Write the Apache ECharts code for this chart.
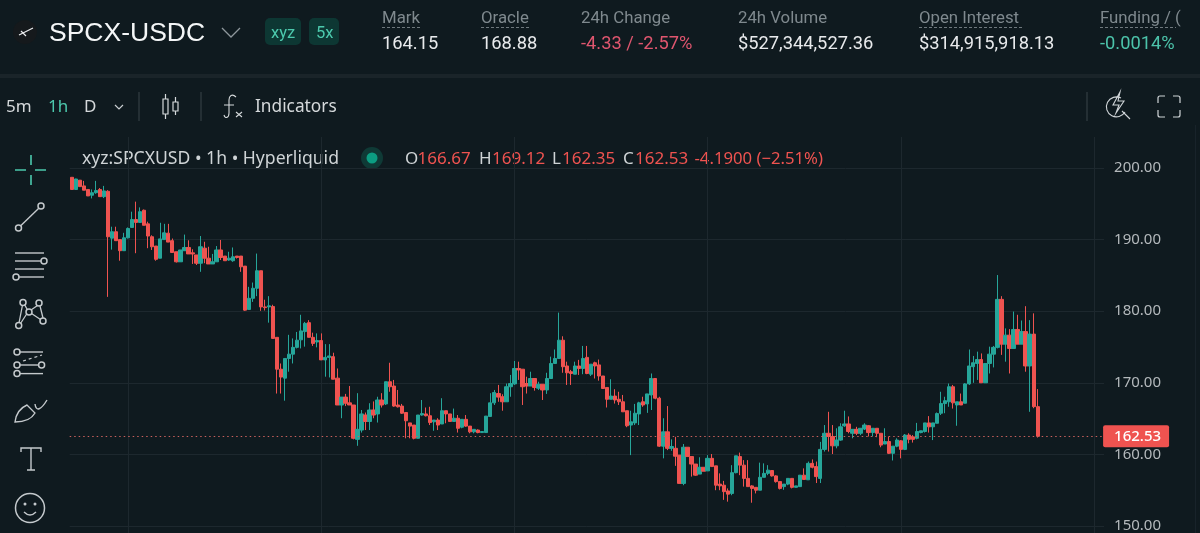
<!DOCTYPE html>
<html>
<head>
<meta charset="utf-8">
<style>html,body{margin:0;padding:0;background:#0f1a1f;overflow:hidden}#c{width:1200px;height:533px}</style>
<script src="https://cdn.jsdelivr.net/npm/echarts@6/dist/echarts.min.js"></script>
</head>
<body>
<div id="c"></div>
<script>
const opens = [
198.7,197.0,198.3,197.5,197.0,196.2,196.55,197.0,196.0,196.75,
190.2,191.1,190.0,188.45,190.25,191.7,192.8,192.4,194.1,192.2,
190.4,189.1,187.4,190.0,190.9,189.85,188.3,186.9,188.45,188.9,
188.15,187.85,186.7,188.8,187.4,186.6,186.9,188.55,187.7,187.15,
187.05,187.7,187.7,186.3,180.25,181.8,183.2,185.65,180.6,180.6,
180.65,176.35,171.9,170.65,173.4,174.0,174.95,176.0,177.15,178.4,
176.35,175.7,175.9,173.2,173.55,173.65,170.65,166.9,168.0,167.2,
166.9,162.1,163.4,165.5,164.6,166.2,165.65,167.6,167.05,170.15,
169.55,166.9,166.75,165.85,164.4,164.1,162.25,165.5,165.65,165.4,
164.55,164.8,164.25,166.1,165.65,164.6,165.05,163.8,164.9,163.95,
163.15,163.4,163.05,163.05,165.3,167.2,168.5,168.05,167.35,169.45,
169.85,172.0,171.9,169.9,169.55,170.6,169.25,169.8,169.0,170.6,
172.7,173.4,175.95,172.35,171.55,171.2,172.35,172.0,173.55,171.2,
172.8,172.5,170.95,169.35,167.7,168.15,167.7,167.35,166.1,164.1,
164.4,165.65,167.35,167.05,168.3,170.6,167.85,161.15,163.15,160.85,
160.85,159.9,155.95,161.0,159.7,158.65,157.25,158.2,157.7,159.45,
158.4,155.85,155.7,154.9,154.55,157.45,159.7,158.5,156.65,155.6,
155.4,155.0,156.8,157.35,157.75,157.0,156.2,155.5,155.85,156.65,
155.4,155.5,157.1,156.45,158.75,158.3,156.65,160.7,162.95,162.5,
161.2,162.0,164.0,164.25,162.95,163.5,162.95,163.55,164.0,163.05,
163.65,162.95,161.45,161.8,160.15,161.15,161.9,160.7,162.7,162.45,
162.25,163.05,163.2,164.4,163.85,164.35,165.75,167.1,167.35,169.45,
166.9,167.35,167.15,169.85,172.25,172.7,173.25,170.0,172.7,174.0,
174.95,181.65,175.4,176.65,174.8,177.45,175.4,177.15,172.35,176.8,
166.67];
const closes = [
197.0,198.46,197.4,196.9,196.1,196.55,196.85,196.0,196.8,190.4,
191.1,189.85,188.45,190.25,191.55,192.8,192.4,193.9,192.0,190.5,
189.0,187.25,190.1,190.95,189.65,188.2,186.9,188.55,188.9,188.0,
188.0,186.7,189.0,187.4,186.6,186.9,188.55,187.5,187.05,187.4,
187.6,187.5,186.2,180.15,181.8,183.2,185.65,180.6,180.5,180.75,
176.2,171.9,170.8,173.4,174.0,174.95,175.95,177.25,178.3,176.35,
175.5,175.9,173.2,173.55,173.75,170.5,166.9,168.0,167.15,166.9,
162.25,163.5,165.65,164.6,166.2,165.5,167.6,166.9,170.15,169.45,
166.75,166.65,165.75,164.7,163.95,162.25,165.5,165.7,165.4,164.45,
164.8,164.1,166.1,165.65,164.6,165.05,163.65,164.9,163.95,163.15,
163.5,163.05,163.2,165.35,167.2,168.65,168.0,167.35,169.45,169.9,
172.0,171.8,169.45,169.55,170.6,169.35,169.8,169.0,170.6,172.7,
173.4,175.95,172.25,171.4,171.3,172.35,172.0,173.4,171.3,172.6,
172.35,170.95,169.2,167.7,168.15,167.6,167.35,165.95,164.0,164.55,
165.75,167.2,166.9,168.45,170.6,167.85,161.15,163.15,160.85,161.1,
159.75,155.95,161.0,159.7,158.65,157.1,158.2,157.65,159.45,158.3,
155.7,155.6,154.8,154.45,157.45,159.8,158.5,156.65,155.5,155.25,
155.0,156.8,157.35,157.8,157.0,156.2,155.25,155.85,156.65,155.4,
155.6,157.1,156.5,158.75,158.2,156.9,160.7,162.95,162.5,161.2,
162.0,163.85,164.25,163.2,163.5,162.95,163.65,164.1,163.05,163.65,
162.95,161.3,161.8,160.15,161.15,162.0,160.7,162.7,162.1,162.1,
163.2,163.3,164.4,163.85,164.4,165.7,167.1,167.5,169.45,167.2,
167.35,166.9,169.85,172.35,172.8,173.25,170.0,172.7,174.0,174.95,
181.65,175.4,176.65,174.8,177.45,175.4,177.15,172.35,176.8,166.67,
162.53];
const highs = [
198.7,198.5,198.3,198.2,197.0,197.0,198.2,197.2,197.5,196.9,
191.8,191.8,190.0,190.95,191.7,193.9,195.3,194.5,194.2,192.5,
190.6,189.1,192.35,192.2,192.2,190.15,188.3,188.55,190.7,189.9,
188.65,187.85,190.5,189.7,189.0,188.0,189.1,189.95,187.7,188.3,
188.9,187.7,187.7,186.3,183.4,184.0,188.05,185.65,181.6,182.1,
180.9,176.35,172.7,173.4,176.7,176.2,177.1,179.5,178.5,178.75,
177.0,176.9,176.9,175.4,175.4,174.2,172.0,168.0,168.45,169.55,
166.9,168.55,166.2,165.85,167.15,167.4,168.05,168.55,170.15,172.8,
170.4,169.0,167.05,165.85,164.4,164.1,165.5,167.6,166.55,166.65,
164.8,165.05,167.85,166.1,165.65,166.4,165.5,164.9,165.5,163.95,
163.5,163.5,163.2,165.35,168.55,169.0,169.7,168.4,169.9,171.1,
173.05,172.95,171.9,170.85,171.55,170.6,170.15,169.8,171.4,173.65,
174.65,179.8,176.5,172.95,171.8,172.95,173.2,175.15,175.15,172.6,
172.95,173.25,170.95,169.35,170.5,169.1,168.75,168.3,166.1,166.1,
167.05,167.35,168.05,168.45,171.3,170.6,168.05,165.05,166.75,162.1,
162.45,159.9,161.45,161.0,159.7,158.65,159.6,158.2,159.9,160.05,
158.4,157.35,156.3,155.25,158.5,159.8,160.25,159.2,159.2,155.7,
155.4,158.85,158.75,158.5,157.8,157.1,156.2,155.85,156.65,156.65,
155.6,157.1,158.05,159.0,159.3,159.0,161.75,164.1,165.95,164.1,
163.65,164.35,166.1,165.3,163.5,163.85,163.65,164.35,164.1,163.65,
163.65,162.95,163.65,162.5,161.15,162.25,162.0,162.85,162.95,162.7,
164.4,163.3,164.4,165.35,164.4,165.85,168.75,168.05,169.9,169.7,
167.35,168.5,169.95,174.65,173.75,174.35,174.1,172.7,175.05,175.15,
185.05,182.1,177.6,177.5,179.95,179.5,178.7,180.7,178.75,179.7,
169.12];
const lows = [
197.0,197.0,197.4,196.9,196.1,195.75,196.4,196.0,195.8,182.0,
188.6,189.85,187.05,188.45,190.15,191.7,188.1,192.4,192.0,188.8,
188.55,187.05,187.4,190.0,189.65,188.2,186.8,186.9,188.45,188.0,
186.6,186.45,185.5,186.7,186.6,186.6,186.9,187.15,187.05,187.05,
186.9,187.35,185.5,180.05,180.25,181.3,182.1,180.05,180.1,178.4,
176.2,168.5,168.5,167.5,171.55,172.7,174.8,174.8,175.05,176.35,
175.15,174.95,173.2,170.85,170.75,170.5,166.9,165.05,166.75,166.9,
162.1,161.2,163.05,163.4,163.4,165.05,164.45,166.55,166.9,168.75,
166.65,166.55,165.65,162.25,162.25,162.1,162.25,165.4,165.3,164.1,
163.3,163.4,164.25,164.35,164.6,164.6,163.05,163.65,163.85,162.95,
162.95,162.95,163.05,163.05,165.3,166.9,167.35,166.1,167.35,168.05,
169.7,170.4,166.9,168.5,169.55,168.9,169.0,167.6,168.45,170.6,
172.7,173.4,171.4,169.7,169.7,171.2,171.1,171.2,171.2,170.95,
170.6,170.3,169.2,166.55,167.7,167.1,166.9,165.95,163.8,159.9,
164.1,164.1,166.65,165.8,166.2,167.7,161.05,159.45,160.6,160.5,
158.4,155.95,155.7,159.7,156.9,157.0,157.25,157.65,157.7,158.3,
155.0,155.0,153.65,153.4,154.3,157.35,157.1,155.5,155.5,153.25,
154.55,155.0,156.8,157.1,156.9,156.05,155.1,155.05,155.7,155.25,
155.4,155.5,156.45,156.45,158.05,156.0,156.0,160.4,160.4,160.05,
160.85,161.9,163.85,162.95,162.25,162.7,162.7,163.4,162.5,162.5,
162.4,161.0,161.45,160.05,159.15,161.0,159.45,160.6,161.55,161.65,
162.1,162.95,163.05,163.05,162.0,164.35,165.5,165.75,166.65,166.4,
164.0,166.9,167.15,169.7,170.0,170.4,170.0,170.0,171.3,172.15,
174.8,173.9,172.95,171.3,174.8,175.4,175.4,171.55,165.95,166.45,
162.35];
const lastPrice = 162.53;
const emptySlots = 16;           // free bars right of the last candle
const gridEvery = 48, gridFirst = 14; // a vertical line every 2 days of hourly bars

const UP = '#26a69a', DOWN = '#ef5350', BG = '#0f1a1f', GRID = '#1d282e';
const categories = opens.concat(new Array(emptySlots).fill(0)).map((_, i) => String(i));
const candles = opens.map((o, i) => [o, closes[i], lows[i], highs[i]]);

const UI = "'Roboto', sans-serif", CHART = "'Noto Sans', sans-serif";
const g = [];
let pathCount = 0;
const txt = (x, y, text, fill, size, family, weight) => g.push({type:'text', x, y:y+1.5, silent:true,
  style:{text, fill, font:`${weight||400} ${size}px ${family||UI}`, verticalAlign:'middle', align:'left'}});
const line = (x1,y1,x2,y2,stroke,w,dash) => g.push({type:'line', silent:true,
  shape:{x1,y1,x2,y2}, style:{stroke, lineWidth:w||1, lineDash:dash||null}});
const ring = (cx,cy,r,stroke,w) => g.push({type:'circle', silent:true, shape:{cx,cy,r}, style:{fill:'transparent', stroke, lineWidth:w||1.5}});
const disc = (cx,cy,r,fill) => g.push({type:'circle', silent:true, shape:{cx,cy,r}, style:{fill}});
const box = (x,y,width,height,fill,r) => g.push({type:'rect', silent:true, shape:{x,y,width,height,r:r||0}, style:{fill}});
const path = (d,stroke,w,dash) => {
  const name = 'iconPath' + (pathCount++);
  echarts.graphic.registerShape(name, echarts.graphic.extendPath(d, {}));
  g.push({type:name, silent:true, style:{stroke, lineWidth:w||1.5, fill:'none', lineDash:dash||null}});
};

// panel separator
box(0,74,1200,4,'#1a2429');
// title row
disc(25,32,12,'#15191c');
path('M19 35 L33 28 M21 31 L26 36', '#e8eaec', 1.2);
txt(49,32,'SPCX-USDC','#f4f6f7',26.5,"'Liberation Sans', sans-serif");
path('M222 28 L231 37 L240 28','#8e979c',1.3);
box(265,18,36,27,'#0d3733',5); txt(271,32,'xyz','#4cc9ad',16.5);
box(309,18,30,27,'#0d3733',5); txt(316,32,'5x','#4cc9ad',16.5);
const stats = [
 [382,'Mark','164.15','#e8eaec',true,38],
 [481,'Oracle','168.88','#e8eaec',true,49],
 [581,'24h Change','-4.33 / -2.57%','#e0566f',false,0],
 [738,'24h Volume','$527,344,527.36','#e8eaec',false,0],
 [919,'Open Interest','$314,915,918.13','#e8eaec',true,103],
 [1100,'Funding / (','-0.0014%','#4cc3aa',true,76]
];
stats.forEach(s => { txt(s[0],17.5,s[1],'#7f898e',16.8); txt(s[0],43,s[2],s[3],18.3);
  if (s[4]) line(s[0],27.5,s[0]+s[5],27.5,'#6e787d',1,[3,2]); });
// toolbar
txt(6,106,'5m','#d5d9db',17,CHART); txt(48,106,'1h','#4cc9ad',17,CHART); txt(84,106,'D','#d5d9db',17,CHART);
path('M115 105 L119 109 L123 105','#c8cdd0',1.2);
line(139,92,139,121,'#3a444a',1); line(201,92,201,121,'#3a444a',1); line(1087,92,1087,121,'#3a444a',1);
path('M165.5 94 L165.5 99 M165.5 114 L165.5 119 M163 99 L168 99 L168 114 L163 114 Z M175.5 97 L175.5 102 M175.5 111 L175.5 115 M173 102 L178 102 L178 111 L173 111 Z','#d5d9db',1.2);
path('M236 97 C232 93 229 96 229 100 L229 113 C229 118 225 119 224 115 M224 105 L234 105 M236 112 L242 117 M242 112 L236 117','#d5d9db',1.1);
txt(255,106,'Indicators','#d5d9db',17.3,CHART);
path('M1121 98 A10 10 0 1 0 1125 112 M1122 111 L1130 119 M1120 92 L1113 105 L1119 105 L1116 113 L1124 101 L1118 101 Z','#d0d5d8',1.1);
path('M1158 103 L1158 98 Q1158 96 1160 96 L1165 96 M1173 96 L1178 96 Q1180 96 1180 98 L1180 103 M1180 110 L1180 115 Q1180 117 1178 117 L1173 117 M1165 117 L1160 117 Q1158 117 1158 115 L1158 110','#d0d5d8',1.2);
// legend row
txt(82,157.5,'xyz:SPCXUSD • 1h • Hyperliquid','#cfd4d6',17.6,CHART);
disc(372,158,11,'#0f3a36'); disc(372,158,5.5,'#0c9d82');
const ohlc = [[405,'O','166.67',12.5],[479,'H','169.12',13],[552,'L','162.35',10],[623,'C','162.53',12]];
ohlc.forEach(o => { txt(o[0],157.5,o[1],'#cfd4d6',17,CHART); txt(o[0]+o[3],157.5,o[2],DOWN,17,CHART); });
txt(694.5,157.5,'-4.1900 (−2.51%)',DOWN,16.7,CHART);
// drawing tools
const C = '#c4c9cc';
path('M31 155 L31 165 M31 175 L31 185 M15 170 L26 170 M35 170 L46 170','#4cc9ad',1.6);
ring(18.5,228,3,C); ring(41,206,3,C); line(20.7,225.8,38.8,208.2,C,1.4);
line(15,253,44,253,C,1.4); line(15,261,41,261,C,1.4); ring(44,261,3,C); line(15,269,44,269,C,1.4); ring(16,277,3,C); line(19,277,44,277,C,1.4);
[[23,302.5],[39,303],[29,312],[18.7,325.6],[43,321]].forEach(p => ring(p[0],p[1],3,C));
path('M22.5 305 L19 323 M24.5 304.5 L27.5 310 M37.5 305.5 L31 310 M40 306 L43 318 M27 313.5 L20.5 323.5 M31.5 313.5 L40.5 319.5',C,1.3);
ring(17,352,3,C); line(20,352,43,352,C,1.4); path('M23 361 L42 355',C,1.2,[3,3]);
ring(17,365,3,C); ring(41.6,365,3,C); line(20,365,38.6,365,C,1.4); ring(17,373.6,3,C); line(20,373.6,43,373.6,C,1.4);
path('M15 422 C16 414 20 408 27 405 L35 413 C31 420 23 422 15 422 Z M35 404 C36 412 41 410 47 400',C,1.4);
path('M21 452 L21 448 L41 448 L41 452 M31 448 L31 470 M27 470 L35 470',C,1.4);
ring(30,508,14.5,C,1.5); disc(25,504,1.5,C); disc(35,504,1.5,C); path('M24 512 Q30 518 36 512',C,1.4);
// right border of the chart pane
line(1195.5,125,1195.5,533,'#18232a',1);

const chart = echarts.init(document.getElementById('c'));
chart.setOption({
  animation:false,
  backgroundColor:BG,
  graphic:g,
  grid:{left:69.7, top:137, width:1034.4, height:460.6, containLabel:false, outerBoundsMode:'none'},
  xAxis:{type:'category', data:categories, boundaryGap:true,
    axisLine:{show:false}, axisTick:{show:false}, axisLabel:{show:false},
    splitLine:{show:true, alignWithLabel:true, lineStyle:{color:GRID,width:1},
      interval:(i)=> (i-gridFirst)%gridEvery===0 && i>=gridFirst}},
  yAxis:{type:'value', position:'right', min:140, max:204.33, interval:10, scale:true,
    axisLine:{show:false}, axisTick:{show:false},
    splitLine:{show:true, showMaxLine:false, lineStyle:{color:GRID,width:1}},
    axisLabel:{show:true, showMaxLabel:false, margin:10, color:'#b4b9bc', fontSize:15, fontFamily:CHART, padding:[4,0,0,0],
      formatter:(v)=> v.toFixed(2)}},
  series:[{type:'candlestick', data:candles, barWidth:3.8, clip:true,
    itemStyle:{color:UP, color0:DOWN, borderColor:UP, borderColor0:DOWN, borderWidth:1},
    markLine:{silent:true, symbol:'none', animation:false,
      lineStyle:{color:'#c9605d', type:[1.5,3], width:1, opacity:1},
      label:{show:true, position:'end', distance:-1, formatter:()=>lastPrice.toFixed(2),
        color:'#fff', backgroundColor:DOWN, fontFamily:CHART, fontSize:15, fontWeight:500, padding:[3,8,3,11], borderRadius:2, lineHeight:16},
      data:[{yAxis:lastPrice}]}
  }]
});
</script>
</body>
</html>
